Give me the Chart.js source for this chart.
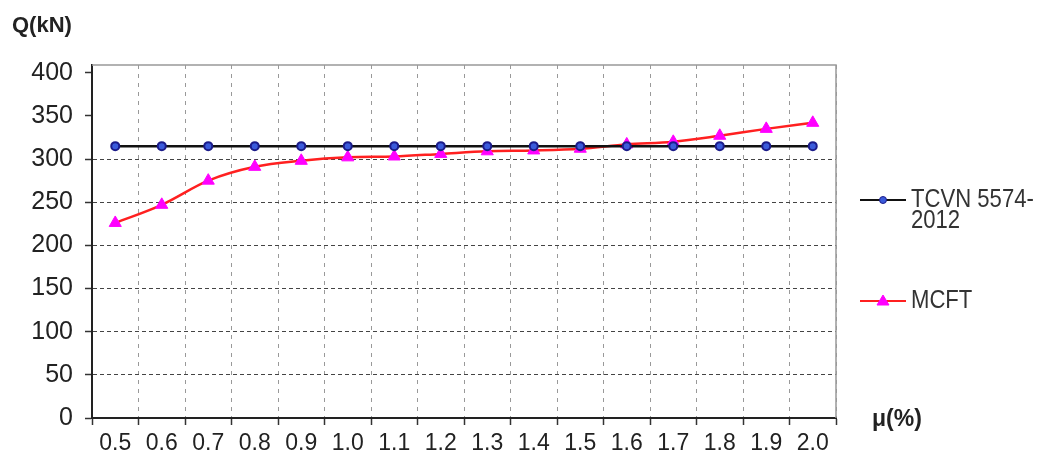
<!DOCTYPE html>
<html>
<head>
<meta charset="utf-8">
<script src="https://cdn.jsdelivr.net/npm/chart.js@4.4.0/dist/chart.umd.min.js"></script>
<style>
html, body { margin: 0; padding: 0; background: #fff; }
</style>
</head>
<body>
<div style="width:1039px;height:463px;">
<canvas id="graf_q_mu" width="1039" height="463"></canvas>
</div>
<script>
const mu_labels = ['0.5', '0.6', '0.7', '0.8', '0.9', '1.0', '1.1', '1.2', '1.3', '1.4', '1.5', '1.6', '1.7', '1.8', '1.9', '2.0'];
const tcvn_valores = [315, 315, 315, 315, 315, 315, 315, 315, 315, 315, 315, 315, 315, 315, 315, 315];
const mcft_valores = [226, 247, 275, 291, 298, 302, 303, 306, 309, 310, 312, 317, 320, 327, 335, 342];
const y_ticks = [0, 50, 100, 150, 200, 250, 300, 350, 400];
const nombre_tcvn = ['TCVN 5574-', '2012'];
const nombre_mcft = ['MCFT'];
const titulo_y = 'Q(kN)';
const titulo_x = 'μ(%)';

const fuente = '"Liberation Sans", Arial, sans-serif';

// marco gris arriba y a la derecha
const marco = {
    id: 'marco',
    beforeDatasetsDraw(chart) {
        const {ctx, chartArea: a} = chart;
        ctx.save();
        ctx.strokeStyle = '#999';
        ctx.lineWidth = 1.5;
        ctx.beginPath();
        ctx.moveTo(a.left, a.top);
        ctx.lineTo(a.right, a.top);
        ctx.lineTo(a.right, a.bottom);
        ctx.stroke();
        ctx.restore();
    }
};

// leyenda y titulos de ejes
const leyenda = {
    id: 'leyenda',
    afterDraw(chart) {
        const ctx = chart.ctx;
        const items = [
            {ds: 0, y: 200, lineas: nombre_tcvn},
            {ds: 1, y: 301, lineas: nombre_mcft}
        ];
        items.forEach(it => {
            const ds = chart.data.datasets[it.ds];
            ctx.save();
            ctx.strokeStyle = ds.borderColor;
            ctx.lineWidth = 2;
            ctx.beginPath();
            ctx.moveTo(860, it.y);
            ctx.lineTo(906, it.y);
            ctx.stroke();
            ctx.fillStyle = ds.pointBackgroundColor;
            ctx.strokeStyle = ds.pointBorderColor;
            ctx.lineWidth = 1;
            ctx.beginPath();
            if (ds.pointStyle === 'triangle') {
                ctx.moveTo(883, it.y - 6);
                ctx.lineTo(889, it.y + 4);
                ctx.lineTo(877, it.y + 4);
                ctx.closePath();
            } else {
                ctx.arc(883, it.y, 3.5, 0, Math.PI * 2);
            }
            ctx.fill();
            ctx.stroke();
            // texto algo estrecho, como Arial Narrow
            ctx.translate(911, it.y);
            ctx.scale(0.85, 1);
            ctx.fillStyle = '#333';
            ctx.font = '26px ' + fuente;
            ctx.textBaseline = 'middle';
            ctx.textAlign = 'left';
            it.lineas.forEach((t, i) => ctx.fillText(t, 0, i * 21));
            ctx.restore();
        });

        ctx.save();
        ctx.fillStyle = '#222';
        ctx.font = 'bold 22px ' + fuente;
        ctx.textBaseline = 'middle';
        ctx.fillText(titulo_y, 12, 26);
        ctx.font = 'bold 23px ' + fuente;
        ctx.fillText(titulo_x, 872, 420);
        ctx.restore();
    }
};

const ctx_q = document.getElementById('graf_q_mu').getContext('2d');
const graf_q_mu = new Chart(ctx_q, {
    type: 'line',
    data: {
        labels: mu_labels,
        datasets: [{
            label: nombre_tcvn.join(''),
            data: tcvn_valores,
            borderColor: '#111',
            borderWidth: 2.5,
            pointStyle: 'circle',
            pointRadius: 4,
            pointBorderWidth: 2,
            pointBackgroundColor: '#3b5bdb',
            pointBorderColor: '#1c1c8a',
            tension: 0
        }, {
            label: nombre_mcft.join(''),
            data: mcft_valores,
            borderColor: '#ff2020',
            borderWidth: 2.5,
            pointStyle: 'triangle',
            pointRadius: 7,
            pointBorderWidth: 1,
            pointBackgroundColor: '#ff00ff',
            pointBorderColor: '#ff00ff',
            tension: 0.4,
            cubicInterpolationMode: 'monotone'
        }]
    },
    options: {
        responsive: false,
        animation: false,
        devicePixelRatio: 1,
        layout: {
            padding: {top: 65, right: 203, left: 0, bottom: 0}
        },
        plugins: {
            legend: {display: false},
            tooltip: {enabled: false}
        },
        scales: {
            x: {
                offset: true,
                afterFit: s => { s.height = 45; },
                grid: {
                    offset: true,
                    color: '#999',
                    lineWidth: 1,
                    tickLength: 7,
                    tickColor: '#333',
                    tickWidth: 1.5
                },
                border: {color: '#222', width: 2, dash: [4, 5]},
                ticks: {
                    color: '#222',
                    padding: 5,
                    maxRotation: 0,
                    autoSkip: false,
                    font: {family: fuente, size: 23}
                }
            },
            y: {
                min: 0,
                max: 409,
                afterFit: s => { s.width = 92; },
                afterBuildTicks: s => { s.ticks = y_ticks.map(v => ({value: v})); },
                grid: {
                    color: c => (c.tick && c.tick.value > 300) ? 'rgba(0,0,0,0)' : '#444',
                    lineWidth: 1,
                    tickLength: 7,
                    tickColor: '#333',
                    tickWidth: 1.5
                },
                border: {color: '#222', width: 2, dash: [4, 3]},
                ticks: {
                    color: '#222',
                    padding: 12,
                    includeBounds: false,
                    font: {family: fuente, size: 25}
                }
            }
        }
    },
    plugins: [marco, leyenda]
});
</script>
</body>
</html>
